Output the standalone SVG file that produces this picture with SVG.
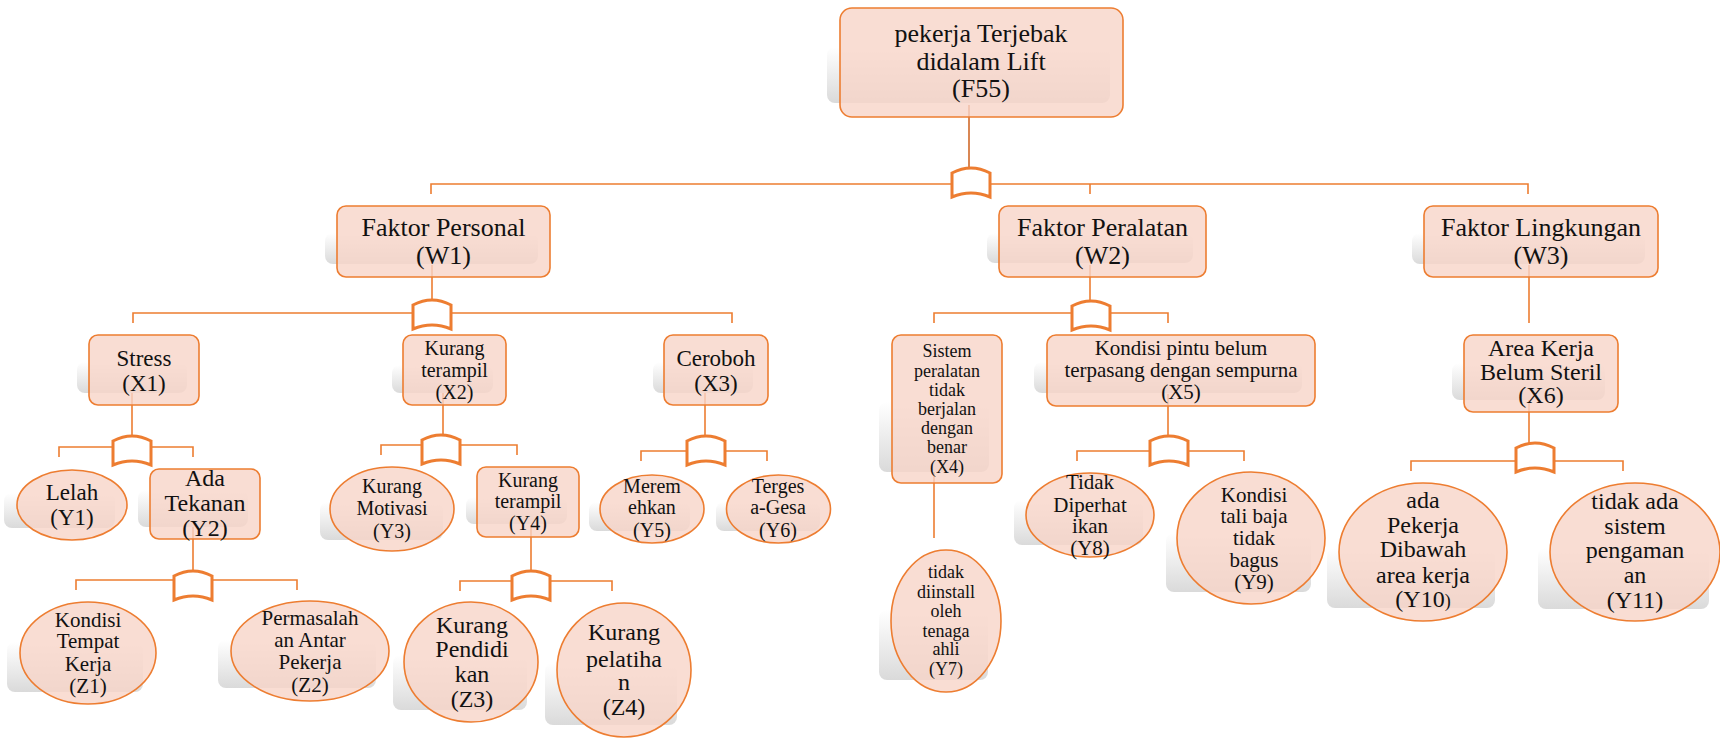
<svg xmlns="http://www.w3.org/2000/svg" width="1720" height="738" viewBox="0 0 1720 738" font-family="Liberation Serif, serif">
  <defs>
    <linearGradient id="shade" x1="0" y1="0" x2="0" y2="1">
      <stop offset="0" stop-color="#ffffff"/>
      <stop offset="1" stop-color="#dadada"/>
    </linearGradient>
    <!-- AND gate: curved top and bottom, origin at top centre -->
    <path id="gate" d="M -19,5 Q 0,-5 19,5 L 19,29 Q 0,21 -19,29 Z"/>
    <style>
      .shadow { fill: url(#shade); }
      .box { fill: #F7D4C8; fill-opacity: 0.8; stroke: #ED7D31; stroke-width: 1.6; }
      .conn { fill: none; stroke: #ED7D31; stroke-width: 1.6; }
      .gate { fill: #ffffff; stroke: #ED7D31; stroke-width: 3; }
      text { font-family: 'Liberation Serif', serif; fill: #111111; text-anchor: middle; }
      .f26 { font-size: 26px; }
      .f24 { font-size: 24px; }
      .f23 { font-size: 23px; }
      .f21 { font-size: 21px; }
      .f20 { font-size: 20px; }
      .f18 { font-size: 18px; }
    </style>
  </defs>

  <rect width="1720" height="738" fill="#ffffff"/>

  <!-- connectors and gates -->
  <g id="connectors">
    <path class="conn" style="stroke:#D0692A" d="M969,105 V168"/>
    <path class="conn" d="M431,194 V184 H1528 V194 M1090,184 V194"/>

    <path class="conn" d="M432,265 V300"/>
    <path class="conn" d="M133,323 V313 H732 V323"/>

    <path class="conn" d="M132,393 V436"/>
    <path class="conn" d="M59,457 V447 H193 V457"/>

    <path class="conn" d="M193,527 V571"/>
    <path class="conn" d="M76,590 V580 H297 V590"/>

    <path class="conn" d="M443,393 V435"/>
    <path class="conn" d="M381,455 V445 H517 V455"/>

    <path class="conn" d="M531,525 V571"/>
    <path class="conn" d="M460,591 V581 H612 V591"/>

    <path class="conn" d="M705,393 V436"/>
    <path class="conn" d="M641,461 V451 H767 V461"/>

    <path class="conn" d="M1090,265 V301"/>
    <path class="conn" d="M934,323 V313 H1168 V323"/>

    <path class="conn" d="M934,471 V538"/>

    <path class="conn" d="M1168,394 V436"/>
    <path class="conn" d="M1077,461 V451 H1244 V461"/>

    <path class="conn" d="M1529,265 V323"/>

    <path class="conn" d="M1529,400 V443"/>
    <path class="conn" d="M1411,471 V461 H1623 V471"/>

    <use href="#gate" class="gate" x="971" y="168"/>
    <use href="#gate" class="gate" x="432" y="300"/>
    <use href="#gate" class="gate" x="132" y="436"/>
    <use href="#gate" class="gate" x="193" y="571"/>
    <use href="#gate" class="gate" x="441" y="435"/>
    <use href="#gate" class="gate" x="531" y="571"/>
    <use href="#gate" class="gate" x="706" y="436"/>
    <use href="#gate" class="gate" x="1091" y="301"/>
    <use href="#gate" class="gate" x="1169" y="436"/>
    <use href="#gate" class="gate" x="1535" y="443"/>
  </g>

  <!-- top event -->
  <g id="F55">
    <rect class="shadow" x="827" y="47" width="283" height="56" rx="8"/>
    <rect class="box" x="840" y="8" width="283" height="109" rx="12"/>
    <text class="f26" x="981" y="42">pekerja Terjebak</text>
    <text class="f26" x="981" y="70">didalam Lift</text>
    <text class="f26" x="981" y="97">(F55)</text>
  </g>

  <!-- factor level -->
  <g id="W1">
    <rect class="shadow" x="325" y="233" width="213" height="31" rx="8"/>
    <rect class="box" x="337" y="206" width="213" height="71" rx="9"/>
    <text class="f26" x="443.5" y="236">Faktor Personal</text>
    <text class="f26" x="443.5" y="264">(W1)</text>
  </g>
  <g id="W2">
    <rect class="shadow" x="987" y="233" width="206" height="30" rx="8"/>
    <rect class="box" x="999" y="206" width="207" height="71" rx="9"/>
    <text class="f26" x="1102.5" y="236">Faktor Peralatan</text>
    <text class="f26" x="1102.5" y="264">(W2)</text>
  </g>
  <g id="W3">
    <rect class="shadow" x="1412" y="233" width="233" height="31" rx="8"/>
    <rect class="box" x="1424" y="206" width="234" height="71" rx="9"/>
    <text class="f26" x="1541" y="236">Faktor Lingkungan</text>
    <text class="f26" x="1541" y="264">(W3)</text>
  </g>

  <!-- X level -->
  <g id="X1">
    <rect class="shadow" x="77" y="362" width="110" height="31" rx="8"/>
    <rect class="box" x="89" y="335" width="110" height="70" rx="9"/>
    <text class="f23" x="144" y="366">Stress</text>
    <text class="f23" x="144" y="391">(X1)</text>
  </g>
  <g id="X2">
    <rect class="shadow" x="392" y="365" width="101" height="28" rx="8"/>
    <rect class="box" x="403" y="335" width="103" height="70" rx="9"/>
    <text class="f20" x="454.5" y="355">Kurang</text>
    <text class="f20" x="454.5" y="377">terampil</text>
    <text class="f20" x="454.5" y="399">(X2)</text>
  </g>
  <g id="X3">
    <rect class="shadow" x="653" y="362" width="100" height="31" rx="8"/>
    <rect class="box" x="664" y="335" width="104" height="70" rx="9"/>
    <text class="f23" x="716" y="366">Ceroboh</text>
    <text class="f23" x="716" y="391">(X3)</text>
  </g>
  <g id="X4">
    <rect class="shadow" x="879" y="402" width="110" height="70" rx="8"/>
    <rect class="box" x="892" y="335" width="110" height="148" rx="9"/>
    <text class="f18" x="947" y="357">Sistem</text>
    <text class="f18" x="947" y="377">peralatan</text>
    <text class="f18" x="947" y="396">tidak</text>
    <text class="f18" x="947" y="415">berjalan</text>
    <text class="f18" x="947" y="434">dengan</text>
    <text class="f18" x="947" y="453">benar</text>
    <text class="f18" x="947" y="473">(X4)</text>
  </g>
  <g id="X5">
    <rect class="shadow" x="1034" y="362" width="268" height="31" rx="8"/>
    <rect class="box" x="1047" y="335" width="268" height="71" rx="9"/>
    <text class="f21" x="1181" y="355">Kondisi pintu belum</text>
    <text class="f21" x="1181" y="377">terpasang dengan sempurna</text>
    <text class="f21" x="1181" y="399">(X5)</text>
  </g>
  <g id="X6">
    <rect class="shadow" x="1452" y="363" width="153" height="37" rx="8"/>
    <rect class="box" x="1464" y="335" width="154" height="77" rx="9"/>
    <text class="f24" x="1541" y="356">Area Kerja</text>
    <text class="f24" x="1541" y="380">Belum Steril</text>
    <text class="f24" x="1541" y="403">(X6)</text>
  </g>

  <!-- Y level -->
  <g id="Y1">
    <rect class="shadow" x="4" y="493" width="111" height="35" rx="8"/>
    <ellipse class="box" cx="72" cy="505" rx="55" ry="35"/>
    <text class="f23" x="72" y="500">Lelah</text>
    <text class="f23" x="72" y="525">(Y1)</text>
  </g>
  <g id="Y2">
    <rect class="shadow" x="138" y="490" width="110" height="37" rx="8"/>
    <rect class="box" x="150" y="469" width="110" height="70" rx="9"/>
    <text class="f24" x="205" y="486">Ada</text>
    <text class="f24" x="205" y="511">Tekanan</text>
    <text class="f24" x="205" y="536">(Y2)</text>
  </g>
  <g id="Y3">
    <rect class="shadow" x="320" y="502" width="123" height="38" rx="8"/>
    <ellipse class="box" cx="392" cy="509" rx="62" ry="42"/>
    <text class="f20" x="392" y="493">Kurang</text>
    <text class="f20" x="392" y="515">Motivasi</text>
    <text class="f20" x="392" y="538">(Y3)</text>
  </g>
  <g id="Y4">
    <rect class="shadow" x="466" y="497" width="101" height="27" rx="8"/>
    <rect class="box" x="477" y="467" width="102" height="70" rx="9"/>
    <text class="f20" x="528" y="487">Kurang</text>
    <text class="f20" x="528" y="508">terampil</text>
    <text class="f20" x="528" y="530">(Y4)</text>
  </g>
  <g id="Y5">
    <rect class="shadow" x="589" y="502" width="101" height="29" rx="8"/>
    <ellipse class="box" cx="652" cy="509" rx="52" ry="34"/>
    <text class="f20" x="652" y="493">Merem</text>
    <text class="f20" x="652" y="514">ehkan</text>
    <text class="f20" x="652" y="537">(Y5)</text>
  </g>
  <g id="Y6">
    <rect class="shadow" x="716" y="502" width="104" height="29" rx="8"/>
    <ellipse class="box" cx="778.5" cy="509" rx="52" ry="34"/>
    <text class="f20" x="778" y="493">Terges</text>
    <text class="f20" x="778" y="514">a-Gesa</text>
    <text class="f20" x="778" y="537">(Y6)</text>
  </g>
  <g id="Y7">
    <rect class="shadow" x="879" y="610" width="109" height="70" rx="8"/>
    <ellipse class="box" cx="946" cy="621" rx="55" ry="71"/>
    <text class="f18" x="946" y="578">tidak</text>
    <text class="f18" x="946" y="598">diinstall</text>
    <text class="f18" x="946" y="617">oleh</text>
    <text class="f18" x="946" y="637">tenaga</text>
    <text class="f18" x="946" y="655">ahli</text>
    <text class="f18" x="946" y="675">(Y7)</text>
  </g>
  <g id="Y8">
    <rect class="shadow" x="1014" y="500" width="129" height="45" rx="8"/>
    <ellipse class="box" cx="1090" cy="515" rx="64" ry="42"/>
    <text class="f21" x="1090" y="489">Tidak</text>
    <text class="f21" x="1090" y="512">Diperhat</text>
    <text class="f21" x="1090" y="533">ikan</text>
    <text class="f21" x="1090" y="555">(Y8)</text>
  </g>
  <g id="Y9">
    <rect class="shadow" x="1166" y="533" width="145" height="59" rx="8"/>
    <ellipse class="box" cx="1251" cy="538" rx="74" ry="66"/>
    <text class="f21" x="1254" y="502">Kondisi</text>
    <text class="f21" x="1254" y="523">tali baja</text>
    <text class="f21" x="1254" y="545">tidak</text>
    <text class="f21" x="1254" y="567">bagus</text>
    <text class="f21" x="1254" y="589">(Y9)</text>
  </g>
  <g id="Y10">
    <rect class="shadow" x="1327" y="548" width="168" height="60" rx="8"/>
    <ellipse class="box" cx="1423" cy="552" rx="84" ry="69"/>
    <text class="f24" x="1423" y="508">ada</text>
    <text class="f24" x="1423" y="533">Pekerja</text>
    <text class="f24" x="1423" y="557">Dibawah</text>
    <text class="f24" x="1423" y="583">area kerja</text>
    <text class="f24" x="1423" y="607">(Y10<tspan style="font-size:18px">)</tspan></text>
  </g>
  <g id="Y11">
    <rect class="shadow" x="1538" y="548" width="171" height="61" rx="8"/>
    <ellipse class="box" cx="1635" cy="552" rx="85" ry="69"/>
    <text class="f24" x="1635" y="509">tidak ada</text>
    <text class="f24" x="1635" y="534">sistem</text>
    <text class="f24" x="1635" y="558">pengaman</text>
    <text class="f24" x="1635" y="583">an</text>
    <text class="f24" x="1635" y="608">(Y11)</text>
  </g>

  <!-- Z level -->
  <g id="Z1">
    <rect class="shadow" x="7" y="642" width="136" height="50" rx="8"/>
    <ellipse class="box" cx="88" cy="653" rx="68" ry="51"/>
    <text class="f21" x="88" y="627">Kondisi</text>
    <text class="f21" x="88" y="648">Tempat</text>
    <text class="f21" x="88" y="671">Kerja</text>
    <text class="f21" x="88" y="693">(Z1)</text>
  </g>
  <g id="Z2">
    <rect class="shadow" x="218" y="640" width="158" height="48" rx="8"/>
    <ellipse class="box" cx="310" cy="651" rx="79" ry="50"/>
    <text class="f21" x="310" y="625">Permasalah</text>
    <text class="f21" x="310" y="647">an Antar</text>
    <text class="f21" x="310" y="669">Pekerja</text>
    <text class="f21" x="310" y="692">(Z2)</text>
  </g>
  <g id="Z3">
    <rect class="shadow" x="393" y="655" width="134" height="55" rx="8"/>
    <ellipse class="box" cx="471" cy="662" rx="67" ry="60"/>
    <text class="f24" x="472" y="633">Kurang</text>
    <text class="f24" x="472" y="657">Pendidi</text>
    <text class="f24" x="472" y="682">kan</text>
    <text class="f24" x="472" y="707">(Z3)</text>
  </g>
  <g id="Z4">
    <rect class="shadow" x="545" y="663" width="132" height="62" rx="8"/>
    <ellipse class="box" cx="624" cy="670" rx="67" ry="67"/>
    <text class="f24" x="624" y="640">Kurang</text>
    <text class="f24" x="624" y="667">pelatiha</text>
    <text class="f24" x="624" y="690">n</text>
    <text class="f24" x="624" y="715">(Z4)</text>
  </g>
</svg>
